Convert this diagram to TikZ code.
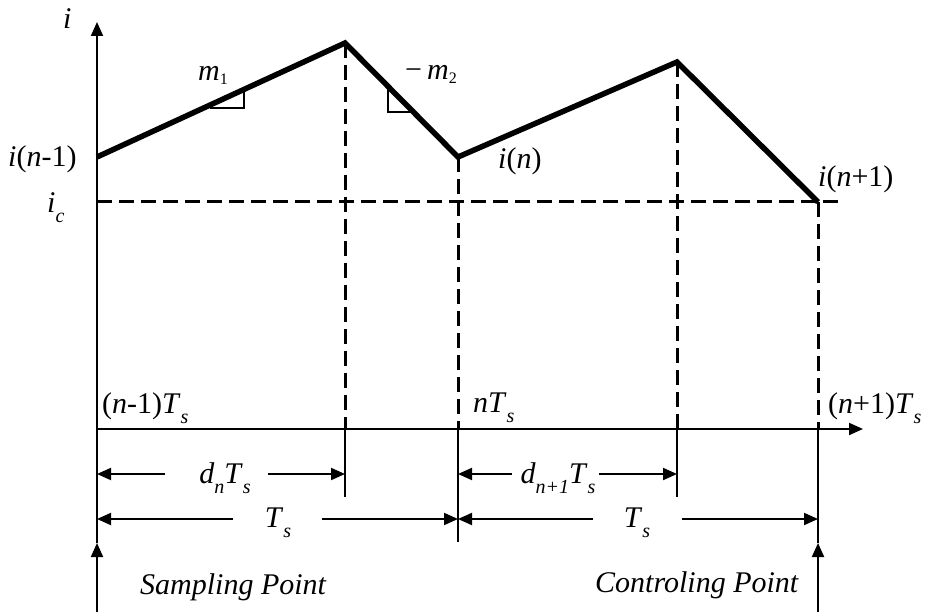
\documentclass[tikz,border=0pt]{standalone}
\usepackage{fontspec}
\setmainfont{Liberation Serif}
\usetikzlibrary{arrows.meta}
\newcommand{\lsub}[1]{\raisebox{-10pt}{\fontsize{20}{21}\selectfont #1}}
\newcommand{\dsub}[1]{\raisebox{-4pt}{\fontsize{16}{17}\selectfont #1}}
\begin{document}
\begin{tikzpicture}[x=1pt,y=-1pt,
  lbl/.style={inner sep=0pt, font=\fontsize{30}{32}\selectfont, anchor=base west},
  clbl/.style={inner sep=0pt, font=\fontsize{30}{32}\selectfont, anchor=base},
  axisline/.style={line width=2pt},
  wave/.style={line width=5.5pt, line join=miter},
  guide/.style={line width=3pt, dash pattern=on 15pt off 7pt},
  dimline/.style={line width=2pt},
  marker/.style={line width=1.5pt},
  headtip/.style={-{Triangle[length=14pt,width=12pt]}}]
\useasboundingbox (0,0) rectangle (928,612);
% coordinates
\coordinate (O) at (97,429);
\coordinate (ytop) at (97,22);
\coordinate (ymid) at (97,543);
\coordinate (ybot) at (97,612);
\coordinate (xend) at (863,429);
\coordinate (p0) at (97,157);
\coordinate (p1) at (345,43);
\coordinate (p2) at (458,157);
\coordinate (p3) at (677,62);
\coordinate (p4) at (818,202);
\coordinate (icR) at (843,202);
\coordinate (x1) at (345,429);
\coordinate (x2) at (458,429);
\coordinate (x3) at (677,429);
\coordinate (x4) at (818,429);
\coordinate (e1) at (345,497);
\coordinate (e2) at (458,542);
\coordinate (e3) at (677,497);
\coordinate (e4) at (818,543);
\coordinate (b4) at (818,612);
% axes
\draw[axisline, headtip] (ymid) -- (ytop);
\draw[axisline, headtip] (ybot) -- (ymid);
\draw[axisline, headtip] (O) -- (xend);
% dashed guides
\draw[guide] (p0 |- p4) -- (icR);
\draw[guide] (p1) -- (x1);
\draw[guide] (p2) -- (x2);
\draw[guide] (p3) -- (x3);
\draw[guide] (p4) -- (x4);
% solid extensions
\draw[axisline] (x1) -- (e1);
\draw[axisline] (x2) -- (e2);
\draw[axisline] (x3) -- (e3);
\draw[axisline] (x4) -- (e4);
\draw[axisline, headtip] (b4) -- (e4);
% waveform
\draw[wave] (p0) -- (p1) -- (p2) -- (p3) -- (p4);
% slope markers
\draw[marker] (210,108) -- (244,108) -- (244,91);
\draw[marker] (388,88) -- (388,112) -- (412,112);
% dimension arrows
\coordinate (d1a) at (165,474); \coordinate (d1b) at (268,474);
\coordinate (t1a) at (233,519); \coordinate (t1b) at (322,519);
\coordinate (d2a) at (512,474); \coordinate (d2b) at (599,474);
\coordinate (t2a) at (593,519); \coordinate (t2b) at (682,519);
\draw[dimline, headtip] (d1a) -- (O |- d1a);
\draw[dimline, headtip] (d1b) -- (x1 |- d1b);
\draw[dimline, headtip] (t1a) -- (O |- t1a);
\draw[dimline, headtip] (t1b) -- (x2 |- t1b);
\draw[dimline, headtip] (d2a) -- (x2 |- d2a);
\draw[dimline, headtip] (d2b) -- (x3 |- d2b);
\draw[dimline, headtip] (t2a) -- (x2 |- t2a);
\draw[dimline, headtip] (t2b) -- (x4 |- t2b);
% labels
\node[lbl] (li) at (63,29) {\textit{i}};
\node[lbl] (lm1) at (198,81) {\textit{m}\dsub{1}};
\node[lbl] (lm2) at (405,80) {\textminus\hspace{5pt}\textit{m}\dsub{2}};
\node[lbl] (lin) at (498,169) {\textit{i}(\textit{n})};
\node[lbl] (linp) at (818,187) {\textit{i}(\textit{n}+1)};
\node[lbl] (linm) at (8,167) {\textit{i}(\textit{n}-1)};
\node[lbl] (lic) at (47,213) {\textit{i}\lsub{\textit{c}}};
\node[lbl] (lt0) at (102,413) {(\textit{n}-1)\textit{T}\lsub{\textit{s}}};
\node[lbl] (lt1) at (473,412) {\textit{nT}\lsub{\textit{s}}};
\node[lbl] (lt2) at (828,413) {(\textit{n}+1)\textit{T}\lsub{\textit{s}}};
\node[clbl] (ld1) at (225,483) {\textit{d}\lsub{\textit{n}}\textit{T}\lsub{\textit{s}}};
\node[clbl] (lT1) at (278,527) {\textit{T}\lsub{\textit{s}}};
\node[clbl] (ld2) at (558,483) {\textit{d}\lsub{\textit{n+1}}\textit{T}\lsub{\textit{s}}};
\node[clbl] (lT2) at (637,527) {\textit{T}\lsub{\textit{s}}};
\node[lbl] (lsp) at (140,594) {\textit{Sampling Point}};
\node[lbl] (lcp) at (595,592) {\textit{Controling Point}};
\end{tikzpicture}
\end{document}
